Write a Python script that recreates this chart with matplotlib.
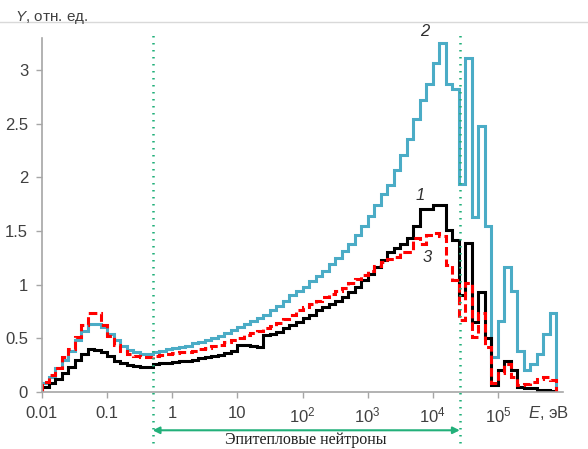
import numpy as np
import matplotlib
matplotlib.use("Agg")
import matplotlib.pyplot as plt
from matplotlib.lines import Line2D

plt.rcParams['font.family'] = ['Liberation Sans', 'DejaVu Sans']
plt.rcParams['mathtext.fontset'] = 'custom'
plt.rcParams['mathtext.rm'] = 'Liberation Sans'
plt.rcParams['mathtext.it'] = 'Liberation Sans:italic'

# log10 of bin edges: 10 bins per decade from 0.01 eV to ~8e5 eV
log_edges = np.linspace(-2, 5.9, 80)

# Series 1 (black, solid)
curve1 = [0.04, 0.08, 0.12, 0.17, 0.23, 0.30, 0.35, 0.40, 0.39, 0.37,
          0.33, 0.29, 0.27, 0.25, 0.24, 0.23, 0.23, 0.26, 0.27, 0.27,
          0.28, 0.29, 0.29, 0.30, 0.31, 0.32, 0.33, 0.34, 0.36, 0.38,
          0.44, 0.44, 0.43, 0.42, 0.53, 0.54, 0.56, 0.59, 0.62, 0.65,
          0.69, 0.72, 0.76, 0.79, 0.82, 0.85, 0.88, 0.93, 0.98, 1.04,
          1.10, 1.16, 1.23, 1.30, 1.34, 1.38, 1.43, 1.55, 1.70, 1.70,
          1.74, 1.74, 1.51, 1.42, 0.90, 1.39, 0.65, 0.93, 0.50, 0.06,
          0.20, 0.29, 0.20, 0.04, 0.03, 0.03, 0.02, 0.02, 0.01]

# Series 2 (blue, solid)
curve2 = [0.08, 0.14, 0.22, 0.30, 0.38, 0.48, 0.57, 0.63, 0.63, 0.60,
          0.54, 0.48, 0.43, 0.39, 0.37, 0.35, 0.35, 0.37, 0.38, 0.40,
          0.41, 0.42, 0.43, 0.45, 0.46, 0.48, 0.50, 0.52, 0.55, 0.58,
          0.60, 0.63, 0.66, 0.69, 0.72, 0.76, 0.80, 0.85, 0.90, 0.94,
          0.98, 1.03, 1.08, 1.13, 1.19, 1.25, 1.31, 1.38, 1.46, 1.55,
          1.64, 1.74, 1.84, 1.93, 2.07, 2.21, 2.36, 2.54, 2.72, 2.87,
          3.07, 3.25, 2.87, 2.82, 1.94, 3.11, 1.63, 2.48, 1.55, 0.32,
          0.66, 1.16, 0.94, 0.38, 0.20, 0.26, 0.35, 0.54, 0.73]

# Series 3 (red, dashed)
curve3 = [0.09, 0.16, 0.22, 0.32, 0.40, 0.51, 0.62, 0.73, 0.73, 0.62,
          0.52, 0.44, 0.38, 0.35, 0.33, 0.32, 0.32, 0.33, 0.34, 0.35,
          0.36, 0.37, 0.37, 0.38, 0.40, 0.41, 0.43, 0.44, 0.46, 0.48,
          0.50, 0.53, 0.55, 0.57, 0.59, 0.61, 0.64, 0.68, 0.72, 0.76,
          0.79, 0.82, 0.85, 0.88, 0.91, 0.94, 0.97, 1.01, 1.05, 1.09,
          1.13, 1.17, 1.21, 1.24, 1.26, 1.30, 1.30, 1.43, 1.38, 1.46,
          1.48, 1.45, 1.18, 1.04, 0.67, 1.01, 0.51, 0.73, 0.42, 0.08,
          0.17, 0.26, 0.14, 0.06, 0.07, 0.09, 0.12, 0.14, 0.11]

xtick_vals = [1e-2, 1e-1, 1, 10, 1e2, 1e3, 1e4, 1e5]
xtick_labels = ["0.01", "0.1", "1", "10", "$10^2$", "$10^3$", "$10^4$", "$10^5$"]
ytick_vals = [0, 0.5, 1, 1.5, 2, 2.5, 3]
ytick_labels = ["0", "0.5", "1", "1.5", "2", "2.5", "3"]

epi_low, epi_high = 0.5, 2.6e4

edges = 10 ** log_edges

fig = plt.figure(figsize=(5.88, 4.49), dpi=100)
ax = fig.add_axes([42/588, 1-391.7/449, (563-42)/588, (391.7-38)/449])

ax.stairs(curve2, edges, color='#4BACC6', lw=2.2, baseline=0)
ax.stairs(curve1, edges, color='black', lw=2.2, baseline=0)
ax.stairs(curve3, edges, color='#FF0000', lw=2.2, baseline=0,
          linestyle=(0, (2.8, 1.3)))

ax.set_xscale('log')
ax.set_xlim(1e-2, 1e6)
ax.set_ylim(0, 3.3)
ax.set_xticks(xtick_vals)
ax.set_xticklabels(xtick_labels)
ax.xaxis.set_minor_locator(matplotlib.ticker.NullLocator())
ax.set_yticks(ytick_vals)
ax.set_yticklabels(ytick_labels)

for s in ['top', 'right']:
    ax.spines[s].set_visible(False)
for s in ['left', 'bottom']:
    ax.spines[s].set_color('#A6A6A6')
    ax.spines[s].set_linewidth(1.2)
ax.tick_params(axis='both', colors='#A6A6A6', labelcolor='#404040',
               labelsize=12, length=4, width=1.0, direction='out', pad=6)

# green dotted boundaries
for xv in [epi_low, epi_high]:
    ax.plot([xv, xv], [-0.54, 3.33], color='#22B07A', lw=1.8,
            linestyle=(0, (0.6, 2.2)), clip_on=False, zorder=5)

# double arrow
ax.annotate('', xy=(epi_low, -0.36), xytext=(epi_high, -0.36),
            xycoords='data', textcoords='data', annotation_clip=False,
            arrowprops=dict(arrowstyle='<|-|>', color='#22B07A', lw=1.5,
                            mutation_scale=10, shrinkA=0, shrinkB=0))
ax.text(np.sqrt(epi_low*epi_high), -0.45, 'Эпитепловые нейтроны',
        family=['Liberation Serif', 'DejaVu Serif'], fontsize=11.5,
        ha='center', va='center', color='#202020', clip_on=False)

# curve labels
ax.text(10**3.80, 1.83, '1', style='italic', fontsize=12, color='#303030', ha='center', va='center')
ax.text(10**3.88, 3.36, '2', style='italic', fontsize=12, color='#303030', ha='center', va='center')
ax.text(10**3.91, 1.25, '3', style='italic', fontsize=12, color='#303030', ha='center', va='center')

# axis titles
fig.text(528/588, 1-413/449, '$\\mathit{E}$, эВ', fontsize=12, color='#404040',
         ha='left', va='center')
fig.text(15/588, 1-17/449, '$\\mathit{Y}$, отн. ед.', fontsize=11, color='#404040',
         ha='left', va='center')

fig.add_artist(Line2D([0, 1], [1-22/449, 1-22/449], color='#D9D9D9', lw=1.0))

fig.savefig('out.png', dpi=100)
